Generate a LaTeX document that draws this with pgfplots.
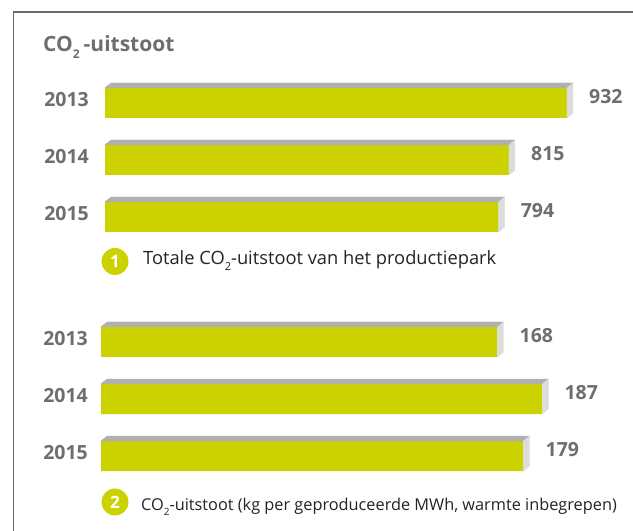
\documentclass[border=0pt]{standalone}
\usepackage{fontspec}
\setmainfont{Open Sans}
\usepackage{pgfplots}
\usepackage{pgfplotstable}
\pgfplotsset{compat=1.18}
\definecolor{barg}{RGB}{204,210,0}
\definecolor{topg}{RGB}{176,176,176}
\definecolor{sideg}{RGB}{220,220,220}
\definecolor{labg}{RGB}{110,110,110}
\definecolor{txt}{RGB}{35,35,35}
\definecolor{framec}{RGB}{105,105,105}
\pgfdeclareplotmark{nothing}{}
\pgfplotstableread{
idx v
0 932
1 815
2 794
}\dataA
\pgfplotstableread{
idx v
0 168
1 187
2 179
}\dataB
\pgfplotsset{
  faces/.style={
    scatter, only marks, mark=nothing,
    point meta=explicit symbolic,
    scatter/@pre marker code/.code={%
      \pgfmathsetmacro\L{-\pgfplotspointmeta*#1}%
      \pgfmathsetmacro\Lb{\L+6}%
      \fill[topg] (\L bp,15bp) -- (0bp,15bp) -- (6bp,20bp) -- (\Lb bp,20bp) -- cycle;
      \fill[sideg] (0bp,-15bp) -- (6bp,-10bp) -- (6bp,20bp) -- (0bp,15bp) -- cycle;
    },
    scatter/@post marker code/.code={},
  },
  grp/.style={
    anchor=origin, y=57bp, y dir=reverse,
    xmin=0, ymin=-0.6, ymax=2.6,
    clip=false, axis line style={draw=none},
    xtick=\empty, ytick={0,1,2}, yticklabels={2013,2014,2015},
    major tick length=0pt,
    yticklabel style={font=\bfseries\fontsize{19.5bp}{19.5bp}\selectfont, text=labg, anchor=east, inner sep=0pt, yshift=3.5bp},
  },
  barplot/.style={
    xbar, fill=barg, draw=none, bar width=30bp, bar shift=0pt,
    point meta=explicit symbolic,
    nodes near coords={\pgfplotspointmeta},
    nodes near coords style={anchor=west, inner sep=0pt, xshift=22bp, yshift=6.5bp, font=\bfseries\fontsize{19.5bp}{19.5bp}\selectfont, text=labg},
  },
}
\begin{document}
\begin{tikzpicture}
\path[use as bounding box] (0,0) rectangle (633bp,531bp);
\draw[framec, line width=1.3bp] (13.5bp,0bp) -- (13.5bp,519bp) -- (633bp,519bp);
\node[anchor=base west, inner sep=0pt, text=labg, font=\bfseries\fontsize{21bp}{21bp}\selectfont] at (43bp,479.5bp) {CO\raisebox{-0.35em}{\fontsize{12bp}{12bp}\selectfont 2}\hspace{4bp}-uitstoot};

\begin{axis}[grp, at={(105bp,428bp)}, x=0.4957bp, xmax=1000,
  yticklabel style={xshift=-16bp}]
\addplot[faces=0.4957] table[x=v,y=idx,meta=v]{\dataA};
\addplot[barplot] table[x=v,y=idx,meta=v]{\dataA};
\end{axis}

\begin{axis}[grp, at={(101bp,189bp)}, x=2.36bp, xmax=215,
  yticklabel style={xshift=-13bp}]
\addplot[faces=2.36] table[x=v,y=idx,meta=v]{\dataB};
\addplot[barplot] table[x=v,y=idx,meta=v]{\dataB};
\end{axis}

\node[circle, fill=barg, minimum size=27bp, inner sep=0pt, text=white, font=\bfseries\fontsize{17bp}{17bp}\selectfont] at (115bp,269.5bp) {1};
\node[anchor=base west, inner sep=0pt, text=txt, font=\fontsize{18.3bp}{18.3bp}\selectfont] at (143bp,266bp) {Totale CO\raisebox{-0.3em}{\fontsize{11bp}{11bp}\selectfont 2}-uitstoot van het productiepark};
\node[circle, fill=barg, minimum size=27bp, inner sep=0pt, text=white, font=\bfseries\fontsize{17bp}{17bp}\selectfont] at (115bp,29bp) {2};
\node[anchor=base west, inner sep=0pt, text=txt, font=\fontsize{16.3bp}{16.3bp}\selectfont] at (141bp,20.5bp) {CO\raisebox{-0.3em}{\fontsize{10bp}{10bp}\selectfont 2}-uitstoot (kg per geproduceerde MWh, warmte inbegrepen)};
\end{tikzpicture}
\end{document}
